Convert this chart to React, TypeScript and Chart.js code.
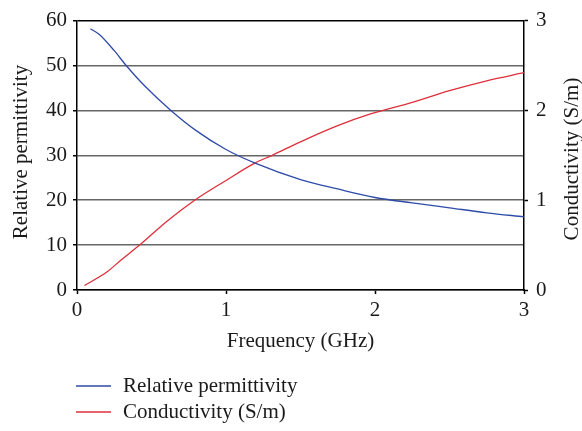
import React, { useEffect, useRef } from "react";
import { Chart, registerables } from "chart.js";

Chart.register(...registerables);

// Frequency sweep (GHz) and measured dielectric properties
const permFreq = [0.09, 0.15, 0.25, 0.33, 0.45, 0.63, 0.8, 1.0, 1.2, 1.5, 1.75, 2.0, 2.25, 2.5, 2.75, 3.0];
const permittivity = [58.2, 56.9, 53.3, 50.0, 45.6, 40.0, 35.5, 31.3, 28.2, 24.6, 22.5, 20.6, 19.4, 18.3, 17.2, 16.3];

const condFreq = [0.05, 0.2, 0.3, 0.42, 0.6, 0.79, 1.0, 1.19, 1.31, 1.5, 1.75, 1.97, 2.25, 2.5, 2.75, 3.0];
const conductivity = [0.05, 0.2, 0.34, 0.5, 0.76, 1.0, 1.22, 1.41, 1.5, 1.65, 1.83, 1.96, 2.09, 2.22, 2.33, 2.42];

const seriesLabels = ["Relative permittivity", "Conductivity (S/m)"];
const xTitle = "Frequency (GHz)";
const yTitle = "Relative permittivity";
const y1Title = "Conductivity (S/m)";

const FONT_FAMILY = "'Liberation Serif', 'DejaVu Serif', serif";
const FONT_SIZE = 21;
const BLUE = "#2e4ba8";
const RED = "#de2f3a";

const titlesAndLegend = {
  id: "titlesAndLegend",
  afterDraw(chart: any) {
    const { ctx, chartArea } = chart;
    ctx.save();
    ctx.fillStyle = "#1a1a1a";
    ctx.font = `${FONT_SIZE}px ${FONT_FAMILY}`;
    ctx.textAlign = "center";
    ctx.textBaseline = "middle";

    // x axis title
    ctx.fillText(xTitle, (chartArea.left + chartArea.right) / 2, 341);

    // left axis title
    ctx.save();
    ctx.translate(21, 152);
    ctx.rotate(-Math.PI / 2);
    ctx.fillText(yTitle, 0, 0);
    ctx.restore();

    // right axis title (reads bottom to top)
    ctx.save();
    ctx.translate(572, 159);
    ctx.rotate(-Math.PI / 2);
    ctx.fillText(y1Title, 0, 0);
    ctx.restore();

    // stacked legend
    const rows = [386, 412];
    chart.data.datasets.forEach((ds: any, i: number) => {
      const y = rows[i];
      ctx.strokeStyle = ds.borderColor;
      ctx.lineWidth = 1.3;
      ctx.beginPath();
      ctx.moveTo(76, y);
      ctx.lineTo(111, y);
      ctx.stroke();
      ctx.textAlign = "left";
      ctx.fillText(ds.label, 123, y);
    });
    ctx.restore();
  },
};

export default function App() {
  const canvasRef = useRef<HTMLCanvasElement>(null);

  useEffect(() => {
    if (!canvasRef.current) return;
    const font = { family: FONT_FAMILY, size: FONT_SIZE };
    const chart = new Chart(canvasRef.current, {
      type: "line",
      data: {
        datasets: [
          {
            label: seriesLabels[0],
            data: permFreq.map((f, i) => ({ x: f, y: permittivity[i] })),
            borderColor: BLUE,
            borderWidth: 1.3,
            pointRadius: 0,
            cubicInterpolationMode: "monotone",
            yAxisID: "y",
          },
          {
            label: seriesLabels[1],
            data: condFreq.map((f, i) => ({ x: f, y: conductivity[i] })),
            borderColor: RED,
            borderWidth: 1.3,
            pointRadius: 0,
            cubicInterpolationMode: "monotone",
            yAxisID: "y1",
          },
        ],
      },
      options: {
        responsive: false,
        animation: false,
        layout: { padding: { top: 14, bottom: 81, left: 0, right: 0 } },
        plugins: { legend: { display: false }, tooltip: { enabled: false } },
        scales: {
          x: {
            type: "linear",
            min: 0,
            max: 3,
            ticks: { stepSize: 1, font, color: "#1a1a1a", padding: 4 },
            grid: { drawOnChartArea: false, tickLength: 4, tickColor: "#000", tickWidth: 1.5 },
            border: { color: "#000", width: 1.5 },
            afterFit: (s: any) => {
              s.height = 60;
            },
          },
          y: {
            position: "left",
            min: 0,
            max: 60,
            ticks: { stepSize: 10, font, color: "#1a1a1a", padding: 6 },
            grid: {
              color: (c: any) => (c.tick && c.tick.value === 60 ? "#000" : "#666666"),
              lineWidth: 1.5,
              tickLength: 4,
              tickColor: "#000",
              tickWidth: 1.5,
            },
            border: { color: "#000", width: 1.5 },
            afterFit: (s: any) => {
              s.width = 77;
            },
          },
          y1: {
            position: "right",
            min: 0,
            max: 3,
            ticks: { stepSize: 1, font, color: "#1a1a1a", padding: 8 },
            grid: { drawOnChartArea: false, tickLength: 4, tickColor: "#000", tickWidth: 1.5 },
            border: { color: "#000", width: 1.5 },
            afterFit: (s: any) => {
              s.width = 58;
            },
          },
        },
      },
      plugins: [titlesAndLegend],
    });
    return () => chart.destroy();
  }, []);

  return (
    <div style={{ position: "absolute", left: 0, top: 0, width: 582, height: 431, background: "#fff" }}>
      <canvas ref={canvasRef} width={582} height={431} />
    </div>
  );
}
